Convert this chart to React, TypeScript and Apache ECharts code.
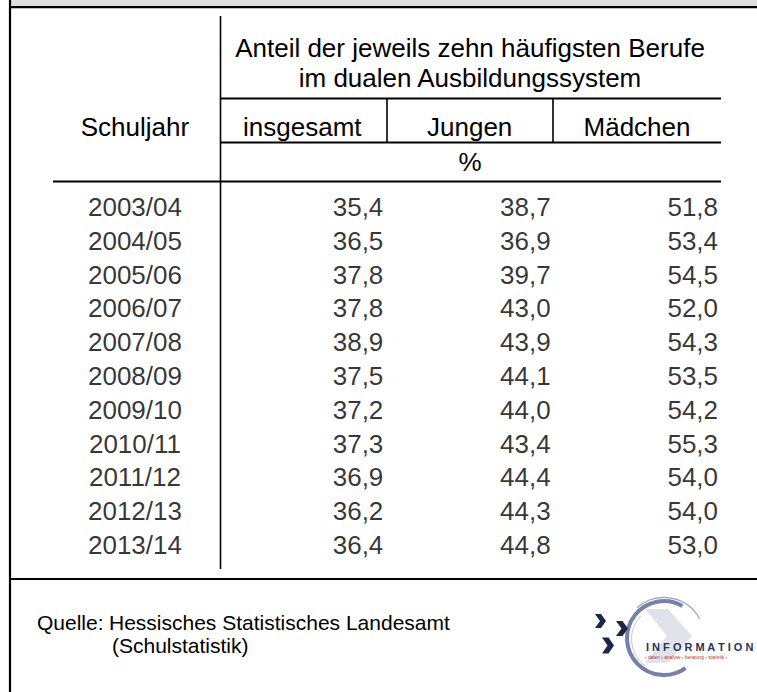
import React, { useEffect, useRef } from "react";
import * as echarts from "echarts";

const years = ["2003/04", "2004/05", "2005/06", "2006/07", "2007/08", "2008/09", "2009/10", "2010/11", "2011/12", "2012/13", "2013/14"];
const insgesamt = [35.4, 36.5, 37.8, 37.8, 38.9, 37.5, 37.2, 37.3, 36.9, 36.2, 36.4];
const jungen = [38.7, 36.9, 39.7, 43.0, 43.9, 44.1, 44.0, 43.4, 44.4, 44.3, 44.8];
const maedchen = [51.8, 53.4, 54.5, 52.0, 54.3, 53.5, 54.2, 55.3, 54.0, 54.0, 53.0];
const columns = ["Schuljahr", "insgesamt", "Jungen", "Mädchen"];
const headerLines = ["Anteil der jeweils zehn häufigsten Berufe", "im dualen Ausbildungssystem"];
const unitLabel = "%";
const sourceLabel = "Quelle:";
const sourceLines = ["Hessisches Statistisches Landesamt", "(Schulstatistik)"];
const logoTitle = "I N F O R M A T I O N";
const logoTagline = "› daten › analyse › beratung › statistik ›";

const FONT = "'Liberation Sans', Arial, sans-serif";
const FS = 26;

const fmt = (v: number) => v.toFixed(1).replace(".", ",");

export default function App() {
  const ref = useRef<HTMLDivElement>(null);
  useEffect(() => {
    if (!ref.current) return;
    const chart = echarts.init(ref.current, null, { renderer: "svg" });
    const valueSeries = (vals: number[], col: string) => ({
      type: "scatter",
      silent: true,
      symbolSize: 1,
      itemStyle: { color: "rgba(0,0,0,0)" },
      data: vals.map((v, i) => [col, years[i], v]),
      label: {
        show: true,
        position: "inside",
        align: "right",
        verticalAlign: "middle",
        offset: [81, 0],
        fontSize: FS,
        fontFamily: FONT,
        color: "#000",
        formatter: (p: any) => fmt(p.value[2]),
      },
    });
    const line = (x1: number, y1: number, x2: number, y2: number, w: number) => ({
      type: "line",
      silent: true,
      shape: { x1, y1, x2, y2 },
      style: { stroke: "#000", lineWidth: w },
    });
    const text = (t: string, x: number, y: number, size: number, align = "center", extra: any = {}) => ({
      type: "text",
      silent: true,
      x,
      y,
      style: { text: t, fontSize: size, fontFamily: FONT, fill: "#000", align, verticalAlign: "middle", ...extra },
    });
    const chev = (x: number, y: number, w: number, s: number, t: number, color: string) => ({
      type: "polygon",
      silent: true,
      shape: {
        points: [
          [x, y - s],
          [x + t, y - s],
          [x + w, y],
          [x + t, y + s],
          [x, y + s],
          [x + w - t, y],
        ],
      },
      style: { fill: color },
    });
    chart.setOption({
      animation: false,
      backgroundColor: "#fff",
      grid: { left: 51.3, right: 36.3, top: 190.1, bottom: 130.1, containLabel: false },
      xAxis: {
        type: "category",
        data: columns,
        position: "top",
        axisLine: { show: false },
        axisTick: { show: false },
        splitLine: { show: false },
        axisLabel: {
          show: true,
          margin: 63,
          fontSize: FS,
          fontFamily: FONT,
          color: "#000",
          verticalAlign: "middle",
          interval: 0,
        },
      },
      yAxis: {
        type: "category",
        data: years,
        inverse: true,
        show: false,
      },
      series: [
        {
          type: "scatter",
          silent: true,
          symbolSize: 1,
          itemStyle: { color: "rgba(0,0,0,0)" },
          data: years.map((y) => [columns[0], y]),
          label: {
            show: true,
            position: "inside",
            align: "center",
            verticalAlign: "middle",
            fontSize: FS,
            fontFamily: FONT,
            color: "#000",
            formatter: (p: any) => p.value[1],
          },
        },
        valueSeries(insgesamt, columns[1]),
        valueSeries(jungen, columns[2]),
        valueSeries(maedchen, columns[3]),
      ],
      graphic: [
        { type: "rect", silent: true, shape: { x: 11, y: 0, width: 746, height: 6.5 }, style: { fill: "#e0e0e0" } },
        line(9, 7.2, 757, 7.2, 2.2),
        line(10, 0, 10, 692, 2.2),
        line(220.5, 16, 220.5, 569, 1.6),
        line(220, 98.5, 721, 98.5, 1.8),
        line(220, 142.5, 721, 142.5, 1.8),
        line(387, 98, 387, 143, 1.6),
        line(553, 98, 553, 143, 1.6),
        line(53, 181.5, 721, 181.5, 2),
        line(9, 579, 757, 579, 2.2),
        text(headerLines[0], 470, 48, FS),
        text(headerLines[1], 470, 78, FS),
        text(unitLabel, 470, 162, FS),
        text(sourceLabel, 37, 622, 21, "left"),
        text(sourceLines[0], 109, 622, 21, "left"),
        text(sourceLines[1], 112, 645, 21, "left"),
        // logo
        {
          type: "polygon",
          silent: true,
          shape: { points: [[645, 609], [668, 609], [692, 636], [668, 663], [645, 663], [667, 636]] },
          style: { fill: "#e0e3ec" },
        },
        {
          type: "arc",
          silent: true,
          shape: { cx: 664, cy: 638, r: 37, startAngle: 0.95, endAngle: 2 * Math.PI - 1.05, clockwise: true },
          style: { stroke: "#7780a6", lineWidth: 4, fill: "none" },
        },
        {
          type: "arc",
          silent: true,
          shape: { cx: 664, cy: 638, r: 40.5, startAngle: -2.3, endAngle: -0.5, clockwise: true },
          style: { stroke: "#9aa1bd", lineWidth: 1.2, fill: "none" },
        },
        {
          type: "arc",
          silent: true,
          shape: { cx: 665, cy: 639, r: 33.5, startAngle: 2.2, endAngle: 3.9, clockwise: true },
          style: { stroke: "#c5c9d9", lineWidth: 1, fill: "none" },
        },
        chev(595, 621, 11, 7, 6, "#1c2748"),
        chev(616, 628.5, 12, 7.5, 6.5, "#1c2748"),
        chev(602, 645.5, 12, 8, 6.5, "#1c2748"),
        text(logoTitle, 646, 647, 11, "left", { fill: "#2a3355", fontWeight: "bold" }),
        text(logoTagline, 645, 657, 4.8, "left", { fill: "#b8333a" }),
      ],
    });
    return () => chart.dispose();
  }, []);
  return (
    <div
      ref={ref}
      style={{ position: "fixed", left: 0, top: 0, width: 757, height: 692, background: "#fff" }}
    />
  );
}
